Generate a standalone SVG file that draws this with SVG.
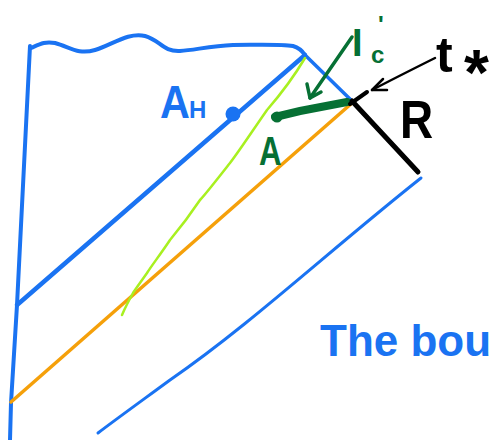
<svg xmlns="http://www.w3.org/2000/svg" width="490" height="440" viewBox="0 0 490 440">
<style>
.blue{stroke:#1a73f2;fill:none;stroke-linecap:round;stroke-linejoin:round}
.lbl{font-family:"Liberation Sans","Open Sans",sans-serif;font-weight:bold}
.arr{fill:none;stroke-linecap:round;stroke-linejoin:round}
</style>
<rect width="490" height="440" fill="#fff"/>
<g id="region">
<path class="blue" stroke-width="4" d="M10,440 L11,403 L17,305 L30,46"/>
<path class="blue" stroke-width="4" d="M31,48 C40,44 45,41 55,43 C70,47 78,55 95,50 C112,45 128,32 145,36 C160,40 163,52 180,51 C195,50 210,46 233,45 C255,45 280,44 293,46 C300,48 303,52 305,55"/>
<path class="blue" stroke-width="4.5" d="M305,55 L17,305"/>
<path class="blue" stroke-width="3.5" d="M305,55 L352,101 L418,172"/>
<path class="blue" stroke-width="3" d="M421,178 C330,250 250,325 170,380 C140,402 115,420 98,433"/>
</g>
<g id="orange-line">
<path d="M352,103 L11,402" stroke="#f5a00a" stroke-width="3.5" fill="none" stroke-linecap="round"/>
</g>
<g id="green-curve">
<path d="M305,58 C292,80 280,95 267,110 C253,130 240,150 230,163 C215,182 205,195 200,200 C190,215 180,228 170,240 C160,255 152,265 147,273 C140,283 135,290 133,293 C128,302 125,308 122,315" stroke="#a8f020" stroke-width="2.5" fill="none" stroke-linecap="round"/>
</g>
<g id="A-segment">
<path d="M275,117 L300,111 L347,102" stroke="#067034" stroke-width="8" fill="none" stroke-linecap="round"/>
<circle cx="277" cy="117" r="5.5" fill="#067034"/>
<text class="lbl" x="259" y="165" font-size="40" fill="#067034" transform="translate(259 0) scale(0.78 1) translate(-259 0)">A</text>
</g>
<g id="AH">
<circle cx="233" cy="114" r="7.5" fill="#1a73f2"/>
<text class="lbl" x="160" y="118" font-size="46" fill="#1a73f2" transform="translate(160 0) scale(0.9 1) translate(-160 0)">A</text>
<text class="lbl" x="189" y="118" font-size="24" fill="#1a73f2">H</text>
</g>
<g id="R">
<path d="M352,101 L418,172" stroke="#000" stroke-width="5" fill="none" stroke-linecap="round"/>
<path d="M350,104 L367,92" stroke="#000" stroke-width="4" fill="none" stroke-linecap="round"/>
<text class="lbl" x="400" y="138" font-size="54" fill="#000" transform="translate(400 0) scale(0.85 1) translate(-400 0)">R</text>
</g>
<g id="tstar">
<text class="lbl" x="436" y="72" font-size="50" fill="#000">t</text>
<text class="lbl" x="464" y="95" font-size="64" fill="#000">*</text>
</g>
<g id="Ic">
<text class="lbl" x="352" y="56" font-size="38" fill="#067034">I</text>
<text class="lbl" x="371" y="63" font-size="24" fill="#067034">c</text>
<text class="lbl" x="378" y="33" font-size="24" fill="#067034">'</text>
</g>
<g id="boundary-text">
<text class="lbl" x="320" y="356" font-size="44" fill="#1a73f2">The bou</text>
</g>
<g id="connectors">
<path class="arr" d="M435,58 C415,68 395,78 372,90" stroke="#000" stroke-width="2.5"/>
<path class="arr" d="M383,79 L372,90 L387,90" stroke="#000" stroke-width="2.5"/>
<path class="arr" d="M352,37 L310,98" stroke="#067034" stroke-width="3.5"/>
<path class="arr" d="M307,84 L310,98 L321,92" stroke="#067034" stroke-width="3.5"/>
</g>
</svg>
